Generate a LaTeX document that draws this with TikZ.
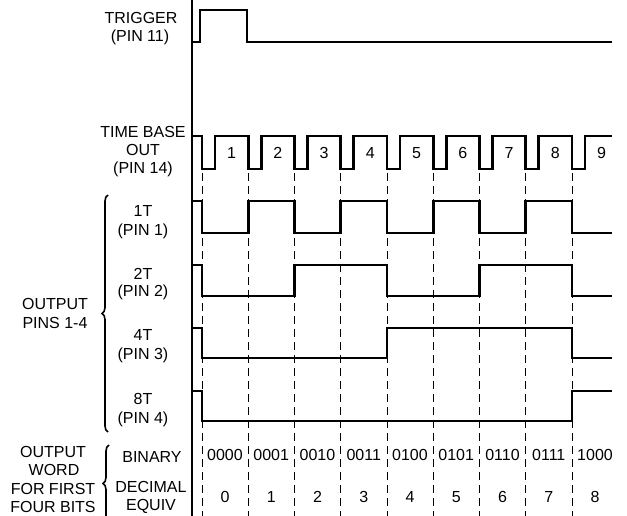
\documentclass[tikz,border=0pt]{standalone}
\usepackage{fontspec}
\setmainfont{Liberation Sans}
\usetikzlibrary{decorations.pathreplacing}
\newcommand\edgex[1]{(202+46.25*(#1))}
\begin{document}
\begin{tikzpicture}[x=1pt,y=-1pt,
  lbl/.style={font=\fontsize{16}{18}\selectfont, anchor=base, inner sep=0pt},
  wave/.style={line width=2.8pt, line join=miter},
  axisline/.style={line width=1.3pt},
  guide/.style={line width=0.9pt, dash pattern=on 8pt off 5pt},
  bracestyle/.style={line width=1.6pt, decorate, decoration={brace, amplitude=6pt}}]
\useasboundingbox (0,0) rectangle (627,516);
\clip (0,0) rectangle (627,516);

% guides
\foreach \k in {0,...,8}
  \draw[guide] ({\edgex{\k}},173) -- ({\edgex{\k}},516);

% axis
\draw[axisline] (192,0) -- (192,516);

% trigger
\draw[wave] (193,42) -- (200,42) -- (200,10) -- (247,10) -- (247,42) -- (612,42);

% time base
\draw[wave] (193,136) foreach \k in {0,...,8} { -- ({\edgex{\k}},136) -- ({\edgex{\k}},169) -- ({\edgex{\k}+13},169) -- ({\edgex{\k}+13},136) } -- (612,136);

% 1T
\draw[wave] (193,201) foreach \k in {0,2,4,6} { -- ({\edgex{\k}},201) -- ({\edgex{\k}},233) -- ({\edgex{\k+1}},233) -- ({\edgex{\k+1}},201) } -- ({\edgex{8}},201) -- ({\edgex{8}},233) -- (612,233);

% 2T
\draw[wave] (193,265) -- ({\edgex{0}},265) -- ({\edgex{0}},296) -- ({\edgex{2}},296) -- ({\edgex{2}},265) -- ({\edgex{4}},265) -- ({\edgex{4}},296) -- ({\edgex{6}},296) -- ({\edgex{6}},265) -- ({\edgex{8}},265) -- ({\edgex{8}},296) -- (612,296);

% 4T
\draw[wave] (193,328) -- ({\edgex{0}},328) -- ({\edgex{0}},358) -- ({\edgex{4}},358) -- ({\edgex{4}},328) -- ({\edgex{8}},328) -- ({\edgex{8}},358) -- (612,358);

% 8T
\draw[wave] (193,391) -- ({\edgex{0}},391) -- ({\edgex{0}},421) -- ({\edgex{8}},421) -- ({\edgex{8}},391) -- (612,391);

% clock numbers
\foreach \k in {1,...,9}
  \node[lbl] (n\k) at ({231.6+46.25*(\k-1)},159) {\k};

% binary and decimal
\foreach \b [count=\k from 0] in {0000,0001,0010,0011,0100,0101,0110,0111,1000}
  \node[lbl] (b\k) at ({225+46.25*\k},460.5) {\b};
\foreach \k in {0,...,8}
  \node[lbl] (d\k) at ({225+46.25*\k},502) {\k};

% left labels
\node[lbl] (trig1) at (141,24) {TRIGGER};
\node[lbl] (trig2) at (140,42) {(PIN 11)};
\node[lbl] (tb1) at (143,138) {TIME BASE};
\node[lbl] (tb2) at (143,156) {OUT};
\node[lbl] (tb3) at (143,174) {(PIN 14)};
\node[lbl] (p1a) at (143,217) {1T};
\node[lbl] (p1b) at (143,235) {(PIN 1)};
\node[lbl] (p2a) at (143,279) {2T};
\node[lbl] (p2b) at (143,296) {(PIN 2)};
\node[lbl] (p3a) at (143,340) {4T};
\node[lbl] (p3b) at (143,359) {(PIN 3)};
\node[lbl] (p4a) at (143,404) {8T};
\node[lbl] (p4b) at (143,423) {(PIN 4)};
\node[lbl] (op1) at (55,309) {OUTPUT};
\node[lbl] (op2) at (55,328) {PINS 1-4};
\node[lbl] (ow1) at (53,457) {OUTPUT};
\node[lbl] (ow2) at (54,475.5) {WORD};
\node[lbl] (ow3) at (53,494) {FOR FIRST};
\node[lbl] (ow4) at (53,512) {FOUR BITS};
\node[lbl] (bin) at (152,462) {BINARY};
\node[lbl] (dec1) at (151,492) {DECIMAL};
\node[lbl] (dec2) at (151,510.5) {EQUIV};

% braces
\draw[bracestyle] (108,432) -- (108,195);
\draw[bracestyle] (109,522) -- (109,445);
\end{tikzpicture}
\end{document}
